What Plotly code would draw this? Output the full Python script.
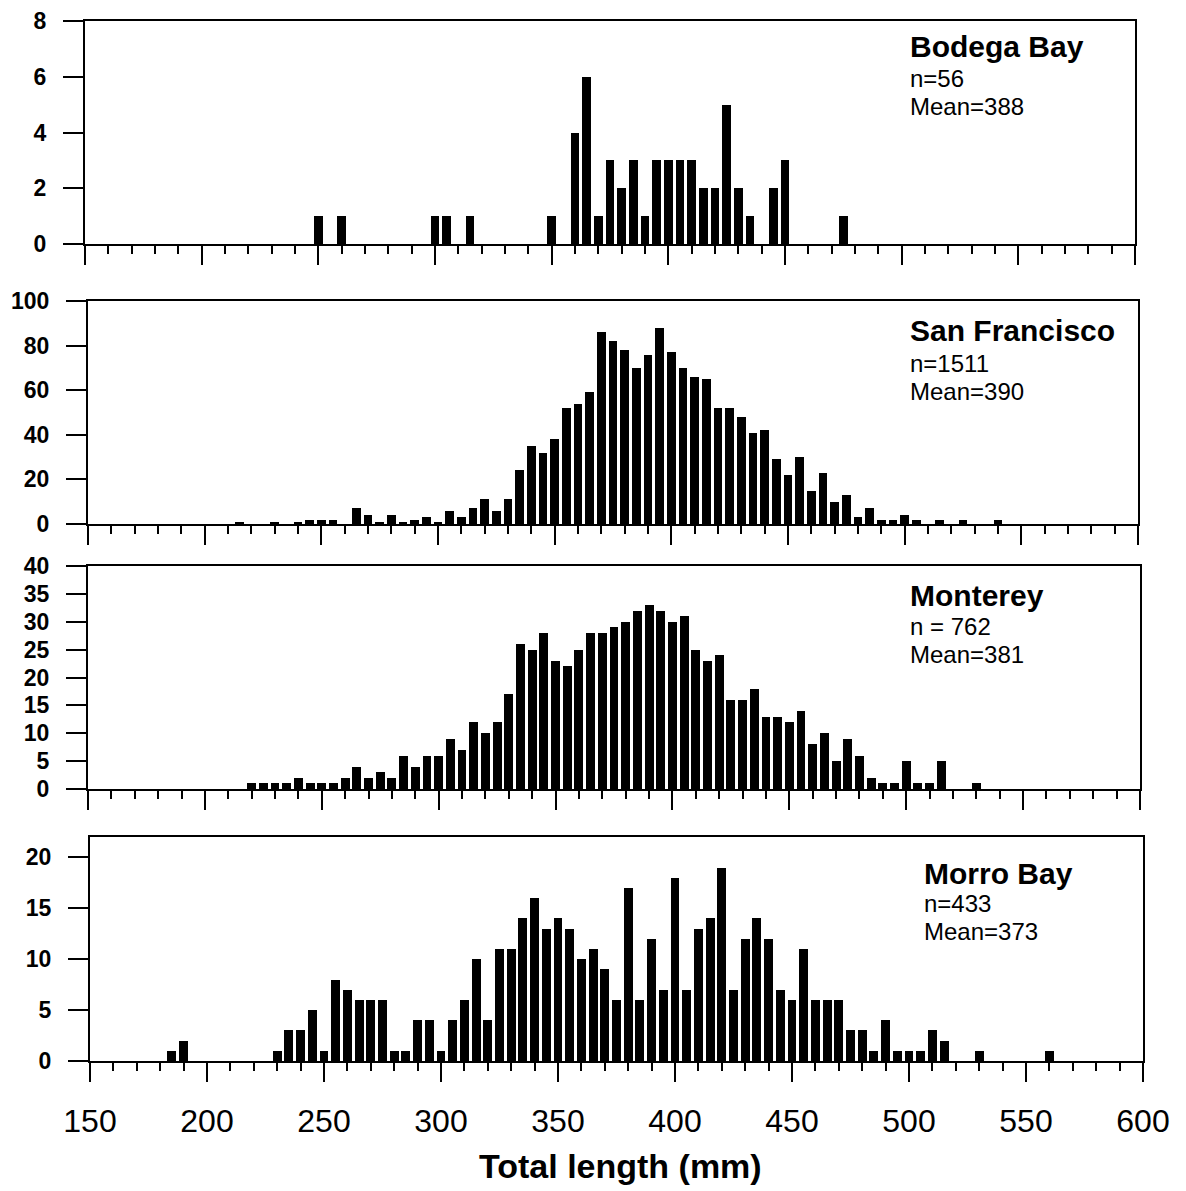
import plotly.graph_objects as go

W, H = 1186, 1191

# ---------------- data (total length in mm, bin centres every 5 mm) ----------------
bodega_len = [250, 260, 300, 305, 315, 350, 360, 365, 370, 375, 380, 385, 390,
              395, 400, 405, 410, 415, 420, 425, 430, 435, 445, 450, 475]
bodega_cnt = [1, 1, 1, 1, 1, 1, 4, 6, 1, 3, 2, 3, 1,
              3, 3, 3, 3, 2, 2, 5, 2, 1, 2, 3, 1]

sf_len = [215, 230, 240, 245, 250, 255, 265, 270, 275, 280, 285, 290, 295, 300,
          305, 310, 315, 320, 325, 330, 335, 340, 345, 350, 355, 360, 365, 370,
          375, 380, 385, 390, 395, 400, 405, 410, 415, 420, 425, 430, 435, 440,
          445, 450, 455, 460, 465, 470, 475, 480, 485, 490, 495, 500, 505, 515,
          525, 540]
sf_cnt = [1, 1, 1, 2, 2, 2, 7, 4, 1, 4, 1, 2, 3, 1,
          6, 3, 7, 11, 6, 11, 24, 35, 32, 38, 52, 54, 59, 86,
          82, 78, 70, 76, 88, 77, 70, 66, 65, 52, 52, 48, 41, 42,
          29, 22, 30, 15, 23, 10, 13, 3, 7, 2, 2, 4, 2, 2,
          2, 2]

mont_len = [220, 225, 230, 235, 240, 245, 250, 255, 260, 265, 270, 275, 280,
            285, 290, 295, 300, 305, 310, 315, 320, 325, 330, 335, 340, 345,
            350, 355, 360, 365, 370, 375, 380, 385, 390, 395, 400, 405, 410,
            415, 420, 425, 430, 435, 440, 445, 450, 455, 460, 465, 470, 475,
            480, 485, 490, 495, 500, 505, 510, 515, 530]
mont_cnt = [1, 1, 1, 1, 2, 1, 1, 1, 2, 4, 2, 3, 2,
            6, 4, 6, 6, 9, 7, 12, 10, 12, 17, 26, 25, 28,
            23, 22, 25, 28, 28, 29, 30, 32, 33, 32, 30, 31, 25,
            23, 24, 16, 16, 18, 13, 13, 12, 14, 8, 10, 5, 9,
            6, 2, 1, 1, 5, 1, 1, 5, 1]

morro_len = [185, 190, 230, 235, 240, 245, 250, 255, 260, 265, 270, 275, 280,
             285, 290, 295, 300, 305, 310, 315, 320, 325, 330, 335, 340, 345,
             350, 355, 360, 365, 370, 375, 380, 385, 390, 395, 400, 405, 410,
             415, 420, 425, 430, 435, 440, 445, 450, 455, 460, 465, 470, 475,
             480, 485, 490, 495, 500, 505, 510, 515, 530, 560]
morro_cnt = [1, 2, 1, 3, 3, 5, 1, 8, 7, 6, 6, 6, 1,
             1, 4, 4, 1, 4, 6, 10, 4, 11, 11, 14, 16, 13,
             14, 13, 10, 11, 9, 6, 17, 6, 12, 7, 18, 7, 13,
             14, 19, 7, 12, 14, 12, 7, 6, 11, 6, 6, 6, 3,
             3, 1, 4, 1, 1, 1, 3, 2, 1, 1]

site_names = ["Bodega Bay", "San Francisco", "Monterey", "Morro Bay"]
site_n = ["n=56", "n=1511", "n = 762", "n=433"]
site_mean = ["Mean=388", "Mean=390", "Mean=381", "Mean=373"]

y_max = [8, 100, 40, 22]
y_dtick = [2, 20, 5, 5]
x_ticks = [150, 200, 250, 300, 350, 400, 450, 500, 550, 600]
x_label = "Total length (mm)"

# ---------------- layout geometry (pixels) ----------------
panels_px = [  # left, right, top, bottom
    (85, 1135, 21, 244),
    (88, 1138, 301, 524),
    (88, 1140, 566, 789),
    (90, 1143, 837, 1061),
]
text_px = [  # x left, y centres for 3 lines
    (908, 47, 78, 106),
    (908, 330, 363, 392),
    (908, 595, 626, 654),
    (922, 873, 903, 931),
]

def px_x(x):
    return x / W

def px_y(y):
    return 1 - y / H

FONT = "Arial, Liberation Sans, sans-serif"
lens = [bodega_len, sf_len, mont_len, morro_len]
cnts = [bodega_cnt, sf_cnt, mont_cnt, morro_cnt]

fig = go.Figure()
layout = dict(
    width=W, height=H,
    margin=dict(l=0, r=0, t=0, b=0, pad=0, autoexpand=False),
    paper_bgcolor="white", plot_bgcolor="white",
    showlegend=False, bargap=0,
    annotations=[],
)

for i in range(4):
    sfx = "" if i == 0 else str(i + 1)
    fig.add_trace(go.Bar(
        x=lens[i], y=cnts[i], width=3.8,
        marker=dict(color="black", line=dict(width=0)),
        xaxis="x" + sfx, yaxis="y" + sfx,
        hoverinfo="x+y",
    ))
    l, r, t, b = panels_px[i]
    last = (i == 3)
    layout["xaxis" + sfx] = dict(
        domain=[px_x(l), px_x(r)], anchor="y" + sfx,
        range=[150, 600], tickmode="array", tickvals=x_ticks,
        showticklabels=last, automargin=False,
        ticks="outside", ticklen=19, tickwidth=2, tickcolor="black",
        minor=dict(dtick=10, tick0=150, ticks="outside", ticklen=8,
                   tickwidth=2, tickcolor="black", showgrid=False),
        showline=True, linecolor="black", linewidth=2, mirror=True,
        showgrid=False, zeroline=False,
        tickfont=dict(family=FONT, size=32, color="black"),
        ticklabelstandoff=12,
        fixedrange=True,
    )
    layout["yaxis" + sfx] = dict(
        domain=[px_y(b), px_y(t)], anchor="x" + sfx,
        range=[0, y_max[i]], dtick=y_dtick[i], tick0=0,
        automargin=False,
        ticks="outside", ticklen=20, tickwidth=2, tickcolor="black",
        showline=True, linecolor="black", linewidth=2, mirror=True,
        showgrid=False, zeroline=False,
        tickfont=dict(family=FONT, size=23, color="black", weight="bold"),
        ticklabelstandoff=12,
        fixedrange=True,
    )
    tx, y1, y2, y3 = text_px[i]
    layout["annotations"] += [
        dict(text="<b>" + site_names[i] + "</b>", x=px_x(tx), y=px_y(y1),
             xref="paper", yref="paper", xanchor="left", yanchor="middle",
             showarrow=False, font=dict(family=FONT, size=30, color="black")),
        dict(text=site_n[i], x=px_x(tx), y=px_y(y2),
             xref="paper", yref="paper", xanchor="left", yanchor="middle",
             showarrow=False, font=dict(family=FONT, size=24, color="black")),
        dict(text=site_mean[i], x=px_x(tx), y=px_y(y3),
             xref="paper", yref="paper", xanchor="left", yanchor="middle",
             showarrow=False, font=dict(family=FONT, size=24, color="black")),
    ]

layout["annotations"].append(
    dict(text="<b>" + x_label + "</b>", x=px_x(620), y=px_y(1166),
         xref="paper", yref="paper", xanchor="center", yanchor="middle",
         showarrow=False, font=dict(family=FONT, size=34, color="black")))

fig.update_layout(**layout)
fig.write_html("out.html")
